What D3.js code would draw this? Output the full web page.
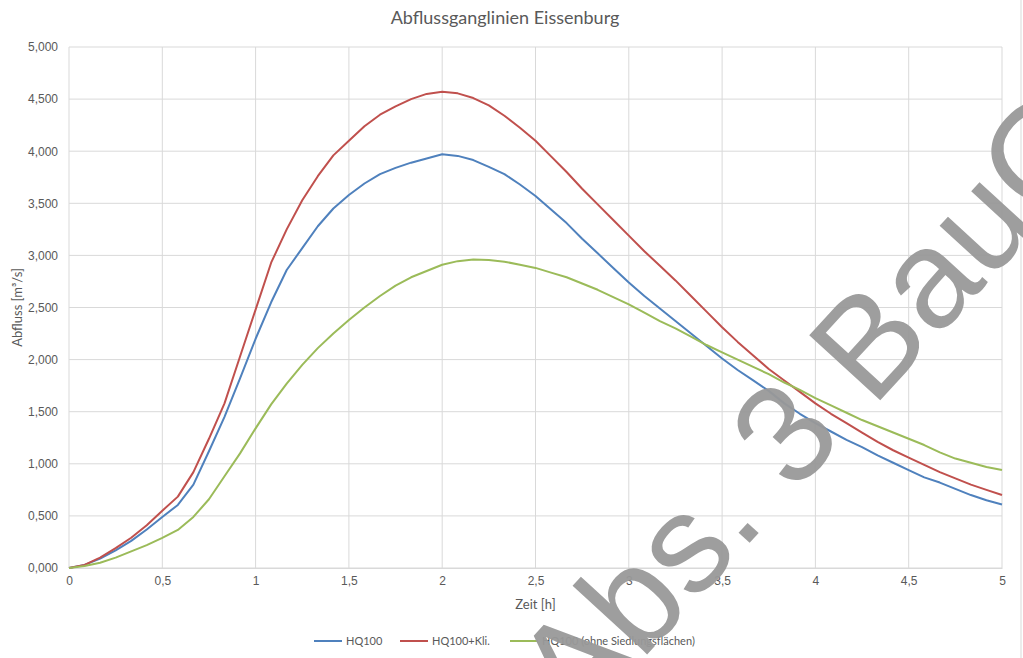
<!DOCTYPE html>
<html>
<head>
<meta charset="utf-8">
<script src="https://cdn.jsdelivr.net/npm/d3@7"></script>
<style>
  body { margin: 0; background: #fff; }
  svg { font-family: Lato, "Liberation Sans", sans-serif; }
</style>
</head>
<body>
<script>
// time steps in hours (5 min)
const zeit = [0, 1/12, 2/12, 3/12, 4/12, 5/12, 6/12, 7/12, 8/12, 9/12, 10/12, 11/12,
  1, 13/12, 14/12, 15/12, 16/12, 17/12, 18/12, 19/12, 20/12, 21/12, 22/12, 23/12,
  2, 25/12, 26/12, 27/12, 28/12, 29/12, 30/12, 31/12, 32/12, 33/12, 34/12, 35/12,
  3, 37/12, 38/12, 39/12, 40/12, 41/12, 42/12, 43/12, 44/12, 45/12, 46/12, 47/12,
  4, 49/12, 50/12, 51/12, 52/12, 53/12, 54/12, 55/12, 56/12, 57/12, 58/12, 59/12, 5];

const hq100 = [0, 0.03, 0.09, 0.17, 0.26, 0.37, 0.49, 0.605, 0.80, 1.12, 1.45, 1.82,
  2.20, 2.55, 2.86, 3.07, 3.28, 3.45, 3.58, 3.69, 3.78, 3.84, 3.89, 3.93,
  3.97, 3.955, 3.915, 3.85, 3.78, 3.68, 3.57, 3.44, 3.31, 3.16, 3.02, 2.88,
  2.74, 2.61, 2.49, 2.37, 2.25, 2.13, 2.01, 1.90, 1.80, 1.70, 1.58, 1.48,
  1.39, 1.31, 1.23, 1.16, 1.08, 1.01, 0.94, 0.87, 0.82, 0.76, 0.70, 0.65, 0.61];

const hq100Kli = [0, 0.03, 0.10, 0.19, 0.29, 0.41, 0.55, 0.685, 0.92, 1.24, 1.58, 2.03,
  2.48, 2.93, 3.25, 3.53, 3.76, 3.96, 4.10, 4.24, 4.35, 4.43, 4.50, 4.55,
  4.57, 4.555, 4.51, 4.44, 4.34, 4.225, 4.10, 3.95, 3.80, 3.64, 3.49, 3.34,
  3.19, 3.04, 2.90, 2.76, 2.61, 2.46, 2.31, 2.17, 2.04, 1.91, 1.80, 1.69,
  1.58, 1.48, 1.39, 1.30, 1.21, 1.13, 1.06, 0.99, 0.92, 0.86, 0.80, 0.75, 0.70];

const hq100Ohne = [0, 0.02, 0.05, 0.10, 0.16, 0.22, 0.29, 0.365, 0.49, 0.66, 0.88, 1.10,
  1.34, 1.57, 1.77, 1.95, 2.11, 2.25, 2.38, 2.50, 2.61, 2.71, 2.79, 2.85,
  2.91, 2.945, 2.96, 2.955, 2.94, 2.91, 2.88, 2.835, 2.79, 2.73, 2.67, 2.60,
  2.53, 2.45, 2.37, 2.30, 2.22, 2.14, 2.07, 2.00, 1.93, 1.86, 1.78, 1.71,
  1.63, 1.56, 1.49, 1.42, 1.36, 1.30, 1.24, 1.18, 1.11, 1.05, 1.01, 0.97, 0.94];

const seriesNames = ["HQ100", "HQ100+Kli.", "HQ100 (ohne Siedlungsflächen)"];
const seriesColors = ["#4f81bd", "#c0504d", "#9bbb59"];
const xTicks = [0, 0.5, 1, 1.5, 2, 2.5, 3, 3.5, 4, 4.5, 5];
const yTicks = [0, 0.5, 1, 1.5, 2, 2.5, 3, 3.5, 4, 4.5, 5];

const W = 1023, H = 658;
const margin = {top: 47, right: 21, bottom: 90, left: 69};
const width = W - margin.left - margin.right;
const height = H - margin.top - margin.bottom;

const de = d3.formatLocale({decimal: ",", thousands: ".", grouping: [3], currency: ["", "€"]});
const yFmt = de.format(".3f");
const xFmt = d => de.format("")(d).replace(".", ",");

const svg = d3.select("body").append("svg")
  .attr("width", W)
  .attr("height", H);

//right border line
svg.append("line")
  .attr("x1", 1021).attr("x2", 1021)
  .attr("y1", 0).attr("y2", H)
  .attr("stroke", "#d9d9d9");

const chart = svg.append("g")
  .attr("transform", `translate(${margin.left},${margin.top})`);

const xScale = d3.scaleLinear().domain([0, 5]).range([0, width]);
const yScale = d3.scaleLinear().domain([0, 5]).range([height, 0]);

//gridlines
chart.append("g")
  .selectAll("line")
  .data(yTicks)
  .enter().append("line")
  .attr("x1", 0).attr("x2", width)
  .attr("y1", d => yScale(d)).attr("y2", d => yScale(d))
  .attr("stroke", "#d9d9d9");

chart.append("g")
  .selectAll("line")
  .data(xTicks)
  .enter().append("line")
  .attr("y1", 0).attr("y2", height)
  .attr("x1", d => xScale(d)).attr("x2", d => xScale(d))
  .attr("stroke", "#d9d9d9");

//axes
const xAxis = d3.axisBottom(xScale).tickValues(xTicks).tickSize(0).tickPadding(8).tickFormat(xFmt);
const yAxis = d3.axisLeft(yScale).tickValues(yTicks).tickSize(0).tickPadding(11).tickFormat(yFmt);

chart.append("g")
  .attr("transform", `translate(0,${height})`)
  .call(xAxis)
  .call(g => g.select(".domain").attr("stroke", "#d9d9d9"))
  .selectAll("text")
  .attr("fill", "#595959")
  .style("font-size", "12px");

chart.append("g")
  .call(yAxis)
  .call(g => g.select(".domain").remove())
  .selectAll("text")
  .attr("fill", "#595959")
  .style("font-size", "12px");

//lines
const allSeries = [hq100, hq100Kli, hq100Ohne];
const line = d3.line()
  .x((d, i) => xScale(zeit[i]))
  .y(d => yScale(d));

chart.append("g")
  .selectAll("path")
  .data(allSeries)
  .enter().append("path")
  .attr("d", d => line(d))
  .attr("fill", "none")
  .attr("stroke", (d, i) => seriesColors[i])
  .attr("stroke-width", 2)
  .attr("stroke-linejoin", "round");

//titles
svg.append("text")
  .attr("x", 505).attr("y", 24)
  .attr("text-anchor", "middle")
  .attr("fill", "#595959")
  .style("font-size", "18px")
  .text("Abflussganglinien Eissenburg");

svg.append("text")
  .attr("x", margin.left + xScale(2.5)).attr("y", 609)
  .attr("text-anchor", "middle")
  .attr("fill", "#595959")
  .style("font-size", "13px")
  .text("Zeit [h]");

svg.append("text")
  .attr("transform", `translate(22,${margin.top + yScale(2.5)}) rotate(-90)`)
  .attr("text-anchor", "middle")
  .attr("fill", "#595959")
  .style("font-size", "13px")
  .text("Abfluss [m³/s]");

//legend
const legendX = [314, 400, 510];
const legend = svg.append("g")
  .selectAll("g")
  .data(seriesNames)
  .enter().append("g")
  .attr("transform", (d, i) => `translate(${legendX[i]},641)`);

legend.append("line")
  .attr("x1", 0).attr("x2", 28)
  .attr("stroke", (d, i) => seriesColors[i])
  .attr("stroke-width", 2);

legend.append("text")
  .attr("x", 32).attr("y", 4)
  .attr("fill", "#595959")
  .style("font-size", "11px")
  .text(d => d);

//watermark
svg.append("text")
  .attr("transform", "translate(578,730) rotate(-47.5)")
  .attr("fill", "#999")
  .attr("opacity", 0.95)
  .style("font-family", "'Liberation Sans', Arial, sans-serif")
  .style("font-size", "140px")
  .text("Abs. 3 BauG");
</script>
</body>
</html>
